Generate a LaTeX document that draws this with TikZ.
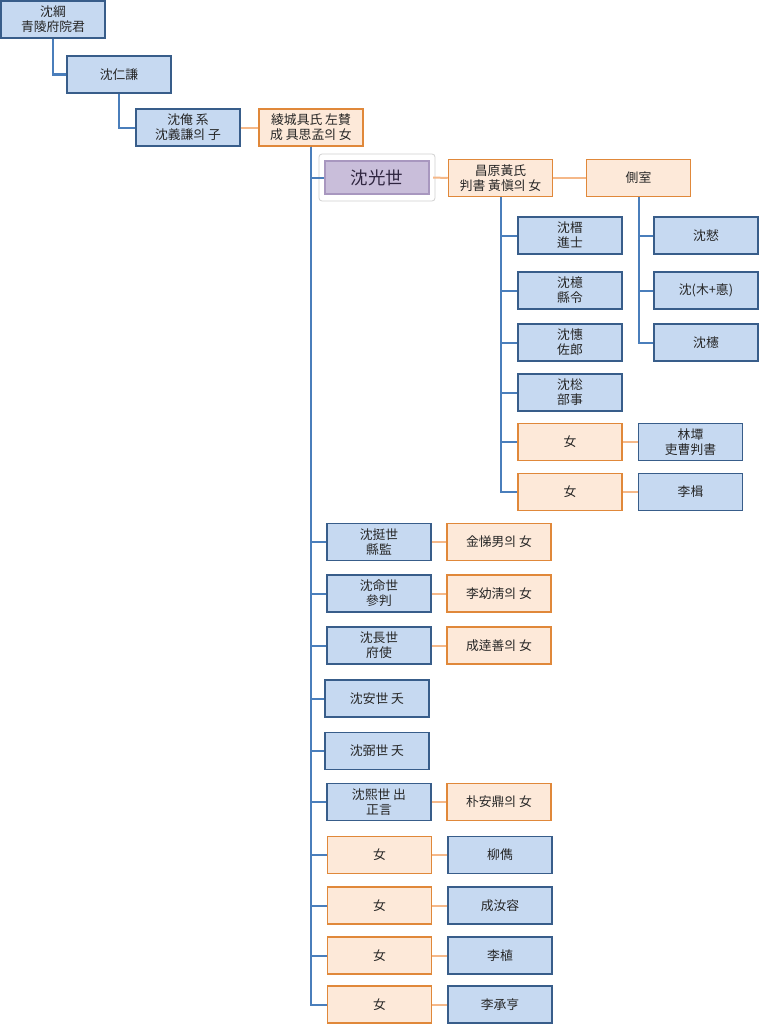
\documentclass[tikz,border=0pt]{standalone}
\usepackage{fontspec}
\setmainfont{Noto Sans CJK KR}
\definecolor{bfill}{HTML}{C6D9F1}
\definecolor{bdraw}{HTML}{385D8A}
\definecolor{ofill}{HTML}{FDE9D9}
\definecolor{odraw}{HTML}{E0883A}
\definecolor{bline}{HTML}{4A7EBB}
\definecolor{oline}{HTML}{F5B888}
\definecolor{pfill}{HTML}{C9BEDA}
\definecolor{pdraw}{HTML}{A897BF}
\definecolor{ptext}{HTML}{2F2540}
\tikzset{
  box/.style={rectangle, minimum width=104pt, minimum height=37pt, inner sep=0pt,
    align=center, font=\fontsize{12.8}{15}\selectfont, text=black!85, line width=1.5pt},
  bbox/.style={box, fill=bfill, draw=bdraw},
  obox/.style={box, fill=ofill, draw=odraw},
  pbox/.style={box, fill=pfill, draw=pdraw, line width=2.2pt, text=ptext,
    minimum height=33pt, font=\fontsize{17.5}{19}\selectfont},
  bl/.style={draw=bline, line width=2pt},
  ol/.style={draw=oline, line width=2pt},
}
\begin{document}
\begin{tikzpicture}[x=1pt,y=-1pt]
\useasboundingbox (0,0) rectangle (760,1025);
\fill[white] (0,0) rectangle (760,1025);
% top generations
\node[bbox] (g1) at (53,19.5) {沈綱\\青陵府院君};
\node[bbox] (g2) at (119,74.5) {沈仁謙};
\node[bbox] (g3) at (188,127.5) {沈俺 系\\沈義謙의 子};
\node[obox] (s3) at (311,127.5) {綾城具氏 左賛\\成 具思孟의 女};
% glow for main person
\fill[white, draw=black!18, line width=0.8pt, rounded corners=3pt] (319,154) rectangle (435,201);
\node[pbox] (m) at (377,177.5) {沈光世};
\node[obox] (ms1) at (500.5,178) {昌原黃氏\\判書 黃愼의 女};
\node[obox] (ms2) at (638.5,178) {側室};
% children of first wife
\node[bbox] (k1) at (570,235.5) {沈榗\\進士};
\node[bbox] (k2) at (570,290.5) {沈檍\\縣令};
\node[bbox] (k3) at (570,342.5) {沈憓\\佐郎};
\node[bbox] (k4) at (570,392.5) {沈棇\\部事};
\node[obox] (k5) at (570,442) {女};
\node[obox] (k6) at (570,492) {女};
\node[bbox] (k5s) at (690.5,442) {林墰\\吏曹判書};
\node[bbox] (k6s) at (690.5,492) {李楫};
% children of concubine
\node[bbox] (c1) at (706,235.5) {沈憖};
\node[bbox] (c2) at (706,290.5) {沈(木+悳)};
\node[bbox] (c3) at (706,342.5) {沈櫶};
% siblings
\node[bbox] (b1) at (379,542) {沈挺世\\縣監};
\node[obox] (b1s) at (499,542) {金悌男의 女};
\node[bbox] (b2) at (379,593.5) {沈命世\\參判};
\node[obox] (b2s) at (499,593.5) {李幼淸의 女};
\node[bbox] (b3) at (379,645.5) {沈長世\\府使};
\node[obox] (b3s) at (499,645.5) {成逹善의 女};
\node[bbox] (b4) at (377,698.5) {沈安世 夭};
\node[bbox] (b5) at (377,751) {沈弼世 夭};
\node[bbox] (b6) at (379,802) {沈熙世 出\\正言};
\node[obox] (b6s) at (499,802) {朴安鼎의 女};
\node[obox] (d1) at (379.5,855) {女};
\node[bbox] (d1s) at (500,855) {柳儁};
\node[obox] (d2) at (379.5,905.5) {女};
\node[bbox] (d2s) at (500,905.5) {成汝容};
\node[obox] (d3) at (379.5,955.5) {女};
\node[bbox] (d3s) at (500,955.5) {李植};
\node[obox] (d4) at (379.5,1004.5) {女};
\node[bbox] (d4s) at (500,1004.5) {李承亨};
% connectors
\draw[bl] (g1.south) |- (g2.west);
\draw[bl] (g2.south) |- (g3.west);
\draw[ol] (g3.east) -- (s3.west);
\foreach \n in {m,b1,b2,b3,b4,b5,b6,d1,d2,d3,d4}
  \draw[bl] (s3.south) |- (\n.west);
\draw[ol] (m.east) ++(3pt,0) -- (ms1.west);
\draw[ol] (ms1.east) -- (ms2.west);
\foreach \n in {k1,k2,k3,k4,k5,k6}
  \draw[bl] (ms1.south) |- (\n.west);
\foreach \n in {c1,c2,c3}
  \draw[bl] (ms2.south) |- (\n.west);
\foreach \a/\b in {k5/k5s,k6/k6s,b1/b1s,b2/b2s,b3/b3s,b6/b6s,d1/d1s,d2/d2s,d3/d3s,d4/d4s}
  \draw[ol] (\a.east) -- (\b.west);
\end{tikzpicture}
\end{document}
